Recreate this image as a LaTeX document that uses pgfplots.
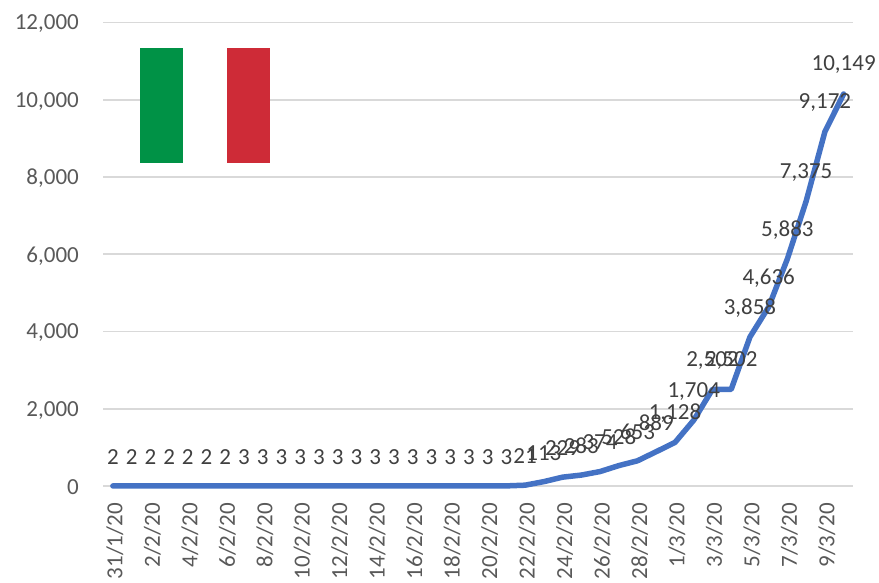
\documentclass[border=0pt]{standalone}
\usepackage{fontspec}
\setmainfont{Carlito}
\usepackage{pgfplots}
\usepackage{pgfplotstable}
\pgfplotsset{compat=1.18}
\definecolor{gridc}{HTML}{D9D9D9}
\definecolor{tickc}{HTML}{595959}
\definecolor{labc}{HTML}{404040}
\definecolor{linec}{HTML}{4472C4}
\definecolor{flagg}{HTML}{009246}
\definecolor{flagr}{HTML}{CE2B37}
\pgfplotstableread{
idx cases
0 2
1 2
2 2
3 2
4 2
5 2
6 2
7 3
8 3
9 3
10 3
11 3
12 3
13 3
14 3
15 3
16 3
17 3
18 3
19 3
20 3
21 3
22 21
23 113
24 229
25 283
26 374
27 528
28 653
29 889
30 1128
31 1704
32 2502
33 2502
34 3858
35 4636
36 5883
37 7375
38 9172
39 10149
}\cases
\begin{document}
\begin{tikzpicture}[x=1pt,y=1pt]
\path[use as bounding box] (0,0) rectangle (879,582);
\begin{axis}[
  at={(103.5pt,96pt)}, anchor=south west,
  scale only axis, width=749.5pt, height=463.5pt,
  xmin=-0.5, xmax=39.5, ymin=0, ymax=12000,
  clip=false,
  axis x line*=bottom, axis y line*=left,
  y axis line style={draw=none},
  x axis line style={draw=gridc, line width=1.6pt, -},
  ytick={0,2000,4000,6000,8000,10000,12000},
  scaled y ticks=false,
  ymajorgrids, major grid style={draw=gridc, line width=1.6pt},
  ytick style={draw=none},
  xtick={0,2,...,38},
  xticklabels={31/1/20,2/2/20,4/2/20,6/2/20,8/2/20,10/2/20,12/2/20,14/2/20,16/2/20,18/2/20,20/2/20,22/2/20,24/2/20,26/2/20,28/2/20,1/3/20,3/3/20,5/3/20,7/3/20,9/3/20},
  xtick style={draw=none},
  extra x ticks={-0.5,1.5,...,39.5},
  extra x tick labels={},
  extra x tick style={
    tick style={draw=gridc, line width=1.6pt},
    major tick length=7pt, tick align=outside, grid=none},
  tick label style={font=\fontsize{23}{26}\selectfont, text=tickc},
  x tick label style={rotate=90, anchor=east, xshift=-17pt, yshift=-2pt, inner sep=0pt},
  y tick label style={anchor=east, xshift=-24.5pt, yshift=-1.5pt, inner sep=0pt},
  /pgf/number format/assume math mode=true,
  /pgf/number format/1000 sep={,},
  /pgf/number format/fixed,
  /pgf/number format/precision=0,
  nodes near coords,
  every node near coord/.append style={
    anchor=center, yshift=29pt, inner sep=0pt,
    font=\fontsize{23}{26}\selectfont, text=labc},
]
\addplot[linec, line width=5.5pt, line join=round, line cap=round, mark=none] table[x=idx,y=cases]{\cases};
\end{axis}
\fill[white] (140,419) rectangle (270,534);
\fill[flagg] (140,419) rectangle (183.3,534);
\fill[flagr] (226.7,419) rectangle (270,534);
\end{tikzpicture}
\end{document}
